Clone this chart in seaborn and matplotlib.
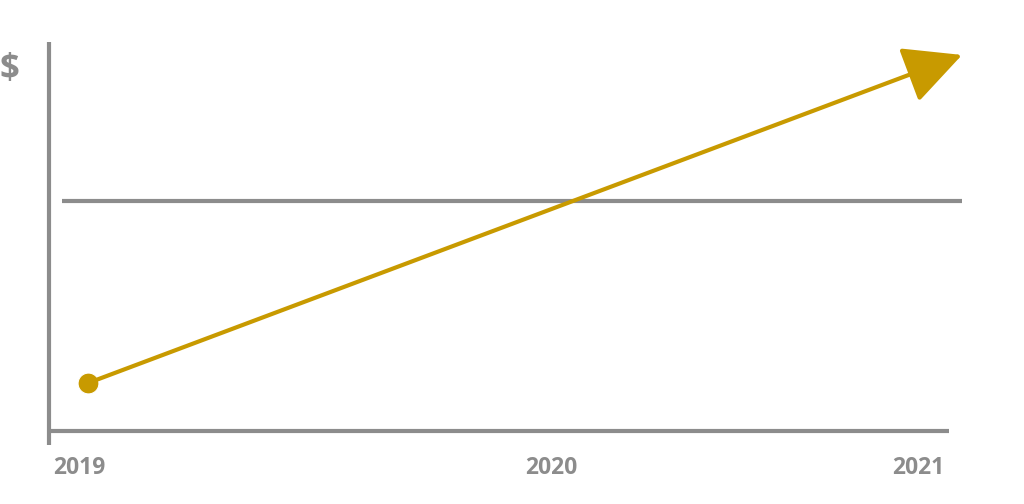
import matplotlib
matplotlib.use("Agg")
import matplotlib.pyplot as plt
import seaborn as sns
import pandas as pd

sns.set_theme(style="white")
plt.rcParams['font.family'] = ['Open Sans', 'DejaVu Sans']

# data
years = [2019.0, 2021.0]
values = [1.17, 9.17]
threshold = 5.6
tick_labels = ["2019", "2020", "2021"]
tick_pos = [2018.98, 2020.06, 2020.9]

GOLD = "#C89A00"
GRAY = "#8C8C8C"

fig = plt.figure(figsize=(10.24, 5.04), dpi=100)
ax = fig.add_axes([0, 0, 1, 1])
ax.set_xlim(2018.7986, 2021.1419)
ax.set_ylim(-1.78, 10.51)
ax.axis("off")

ax.plot([2018.91, 2018.91], [-0.34, 9.49], color=GRAY, lw=3, solid_capstyle="butt")
ax.plot([2018.91, 2020.97], [0, 0], color=GRAY, lw=3, solid_capstyle="butt")
ax.plot([2018.94, 2021.0], [threshold, threshold], color=GRAY, lw=3, solid_capstyle="butt")

df = pd.DataFrame({"year": years, "value": values})
sns.lineplot(data=df.iloc[:1], x="year", y="value", ax=ax, marker="o",
             markersize=15, color=GOLD, linestyle="none")
ax.annotate("", xy=(years[1], values[1]), xytext=(years[0], values[0]),
            arrowprops=dict(arrowstyle="-|>,head_length=1.0,head_width=0.5",
                            mutation_scale=36, lw=3, color=GOLD,
                            shrinkA=0, shrinkB=0))

for p, t in zip(tick_pos, tick_labels):
    ax.text(p, -0.9, t, ha="center", va="center", fontsize=16.5,
            fontweight="bold", color=GRAY)
ax.text(2018.82, 8.8, "$", ha="center", va="center", fontsize=25,
        fontweight="bold", color=GRAY)
ax.set_xlabel("")
ax.set_ylabel("")
fig.savefig("out.png", dpi=100)
